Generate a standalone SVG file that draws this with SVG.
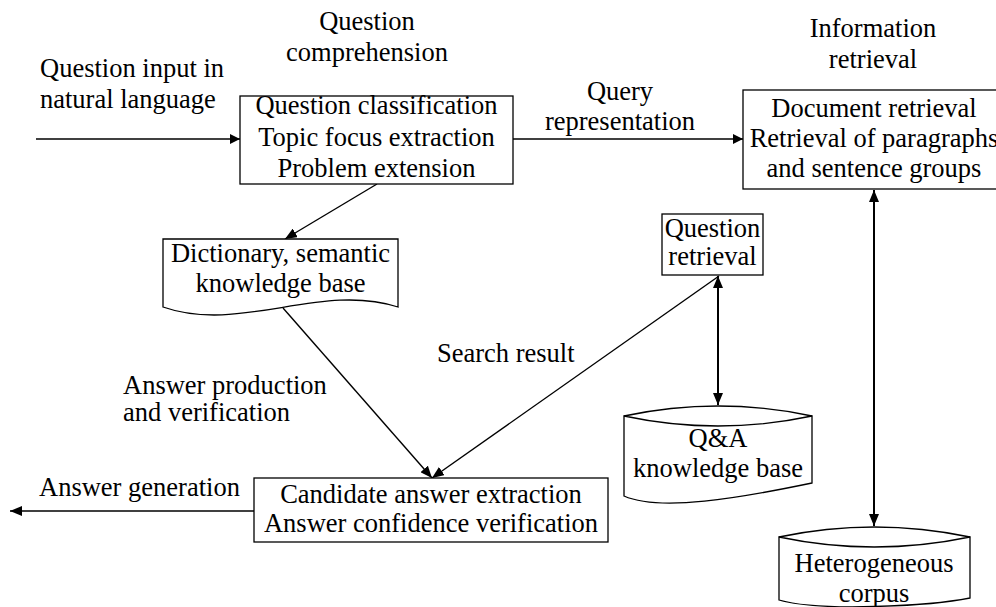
<svg xmlns="http://www.w3.org/2000/svg" width="996" height="607" viewBox="0 0 996 607">
<style>
text{font-family:"Liberation Serif","Times New Roman",Tinos,"DejaVu Serif",serif;font-size:26.5px;fill:#000}
.c{text-anchor:middle}
.box{fill:#fff;stroke:#000;stroke-width:1.3}
.ln{fill:none;stroke:#000;stroke-width:1.4}
.lnb{fill:none;stroke:#000;stroke-width:2}
</style>
<defs>
<marker id="ah" viewBox="0 0 10 10" refX="10" refY="5" markerWidth="10" markerHeight="10" markerUnits="userSpaceOnUse" orient="auto-start-reverse">
<path d="M0,0 L10,5 L0,10 Z" fill="#000"/>
</marker>
<marker id="ah2" viewBox="0 0 12 10" refX="12" refY="5" markerWidth="12" markerHeight="10" markerUnits="userSpaceOnUse" orient="auto-start-reverse">
<path d="M0,0 L12,5 L0,10 Z" fill="#000"/>
</marker>
</defs>
<rect width="996" height="607" fill="#fff"/>

<g id="labels" font-family="Liberation Serif, serif">
<text x="40" y="77">Question input in</text>
<text x="40" y="108">natural language</text>
<text class="c" x="367" y="30">Question</text>
<text class="c" x="367" y="61">comprehension</text>
<text class="c" x="620" y="100">Query</text>
<text class="c" x="620" y="130">representation</text>
<text class="c" x="873" y="37">Information</text>
<text class="c" x="873" y="68">retrieval</text>
<text x="437" y="362">Search result</text>
<text x="123" y="394">Answer production</text>
<text x="123" y="421">and verification</text>
<text x="39" y="496">Answer generation</text>
</g>

<g id="connectors">
<line class="ln" x1="36" y1="139" x2="240" y2="139" marker-end="url(#ah)"/>
<line class="ln" x1="513" y1="139" x2="743" y2="139" marker-end="url(#ah)"/>
<line class="ln" x1="377" y1="184" x2="285" y2="239" marker-end="url(#ah2)"/>
<line class="ln" x1="283" y1="308" x2="432" y2="478" marker-end="url(#ah2)"/>
<line class="ln" x1="719" y1="276" x2="432" y2="478" marker-end="url(#ah2)"/>
<line class="lnb" x1="718" y1="276" x2="718" y2="405" marker-start="url(#ah2)" marker-end="url(#ah2)"/>
<line class="lnb" x1="874" y1="190" x2="874" y2="526" marker-start="url(#ah2)" marker-end="url(#ah2)"/>
<line class="ln" x1="254" y1="511" x2="10" y2="511" marker-end="url(#ah2)"/>
</g>

<g id="comprehension">
<rect class="box" x="240" y="96" width="273" height="88"/>
<text class="c" x="376.5" y="114">Question classification</text>
<text class="c" x="376.5" y="146">Topic focus extraction</text>
<text class="c" x="376.5" y="177">Problem extension</text>
</g>

<g id="retrieval">
<rect class="box" x="743" y="90" width="260" height="99"/>
<text class="c" x="874" y="117">Document retrieval</text>
<text class="c" x="874" y="147">Retrieval of paragraphs</text>
<text class="c" x="874" y="177">and sentence groups</text>
</g>

<g id="dictionary">
<path class="box" d="M163,239 H398 V307 C320,282 240,334 163,307 Z"/>
<text class="c" x="280.5" y="262">Dictionary, semantic</text>
<text class="c" x="280.5" y="292">knowledge base</text>
</g>

<g id="question-retrieval">
<rect class="box" x="662" y="214" width="101" height="61"/>
<text class="c" x="712.5" y="237">Question</text>
<text class="c" x="712.5" y="265">retrieval</text>
</g>

<g id="qa-kb">
<path class="box" d="M624,416 V496 C660,512 740,498 812,483 V416 Z"/>
<path class="box" d="M624,416 Q718,396 812,416 Q718,436 624,416 Z"/>
<text class="c" x="718" y="447">Q&amp;A</text>
<text class="c" x="718" y="477">knowledge base</text>
</g>

<g id="candidate">
<rect class="box" x="254" y="478" width="354" height="64"/>
<text class="c" x="431" y="503">Candidate answer extraction</text>
<text class="c" x="431" y="532">Answer confidence verification</text>
</g>

<g id="corpus">
<path class="box" d="M779,537 V600 C820,612 930,606 970,598 V537 Z"/>
<path class="box" d="M779,537 Q874,517 970,537 Q874,557 779,537 Z"/>
<text class="c" x="874" y="572">Heterogeneous</text>
<text class="c" x="874" y="602">corpus</text>
</g>
</svg>
